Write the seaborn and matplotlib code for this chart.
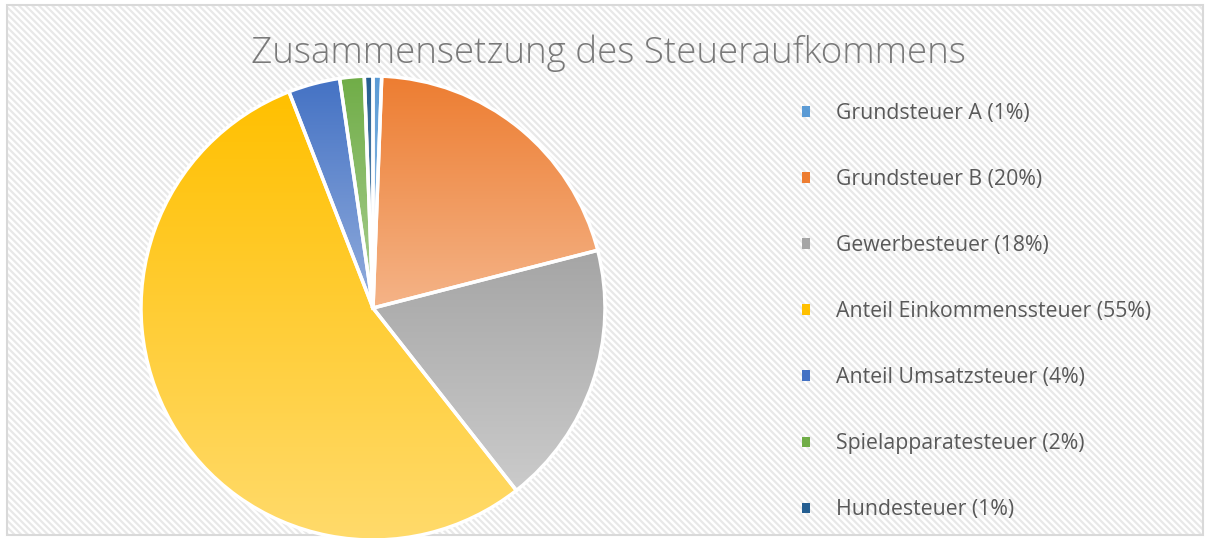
import numpy as np
import matplotlib
matplotlib.use('Agg')
import matplotlib.pyplot as plt
from matplotlib.patches import Rectangle, Patch
from matplotlib.colors import to_rgb
import seaborn as sns

# ── Data ──────────────────────────────────────────────────────────────────────
categories = ['Grundsteuer A', 'Grundsteuer B', 'Gewerbesteuer',
              'Anteil Einkommenssteuer', 'Anteil Umsatzsteuer',
              'Spielapparatesteuer', 'Hundesteuer']
shares = [0.6, 20.4, 18.4, 54.7, 3.6, 1.7, 0.6]
pct_labels = ['1%', '20%', '18%', '55%', '4%', '2%', '1%']
base_colors = ['#5B9BD5', '#ED7D31', '#A5A5A5', '#FFC000',
               '#4472C4', '#70AD47', '#255E91']
title = 'Zusammensetzung des Steueraufkommens'

sns.set_style('white')
plt.rcParams['font.family'] = ['Open Sans', 'DejaVu Sans']
plt.rcParams['hatch.linewidth'] = 1.6

W, H = 1207, 538
fig = plt.figure(figsize=(W / 100, H / 100), dpi=100)
fig.patch.set_facecolor('white')

# striped chart-area background + thin frame (behind the pie axes)
fig.patches.append(Rectangle((7 / W, 3 / H), 1196 / W, 530 / H,
                             transform=fig.transFigure, facecolor='white',
                             edgecolor='#e8e8e8', hatch='\\\\\\\\\\', lw=0,
                             zorder=-2))
fig.patches.append(Rectangle((7 / W, 3 / H), 1196 / W, 530 / H,
                             transform=fig.transFigure, facecolor='none',
                             edgecolor='#d9d9d9', lw=1.5, zorder=-1))

# ── Pie ───────────────────────────────────────────────────────────────────────
cx, cy, r = 373, 308, 232
ax = fig.add_axes([(cx - r) / W, (H - cy - r) / H, 2 * r / W, 2 * r / H])
ax.set_facecolor('none')
wedges, _ = ax.pie(shares, startangle=90, counterclock=False, radius=1,
                   colors=base_colors,
                   wedgeprops=dict(edgecolor='white', linewidth=2.5))


def gradient(color, n=256):
    # top: base colour, bottom: lighter tint
    top = np.array(to_rgb(color))
    bottom = top + (1 - top) * 0.42
    t = np.linspace(0, 1, n)[:, None]
    return (top[None, :] * (1 - t) + bottom[None, :] * t)[:, None, :]


for w, c in zip(wedges, base_colors):
    bb = w.get_path().get_extents(w.get_patch_transform())
    img = ax.imshow(gradient(c), extent=[bb.x0, bb.x1, bb.y0, bb.y1],
                    origin='upper', aspect='auto', zorder=1)
    img.set_clip_path(w)
    w.set_facecolor('none')
    w.set_zorder(2)
ax.set_xlim(-1, 1)
ax.set_ylim(-1, 1)
ax.axis('off')

# ── Title & legend ────────────────────────────────────────────────────────────
fig.text(608 / W, 1 - 53 / H, title, ha='center', va='center',
         fontsize=26.5, color='#7a7a7a', fontweight='light')

handles = [Patch(facecolor=c, edgecolor='none') for c in base_colors]
labels = [f'{n} ({p})' for n, p in zip(categories, pct_labels)]
fig.legend(handles, labels, loc='upper left',
           bbox_to_anchor=(783 / W, 1 - 84 / H), frameon=False,
           fontsize=15.3, labelcolor='#595959', handlelength=0.38,
           handleheight=0.38, handletextpad=1.2, labelspacing=2.12)

fig.savefig('out.png', dpi=100)
